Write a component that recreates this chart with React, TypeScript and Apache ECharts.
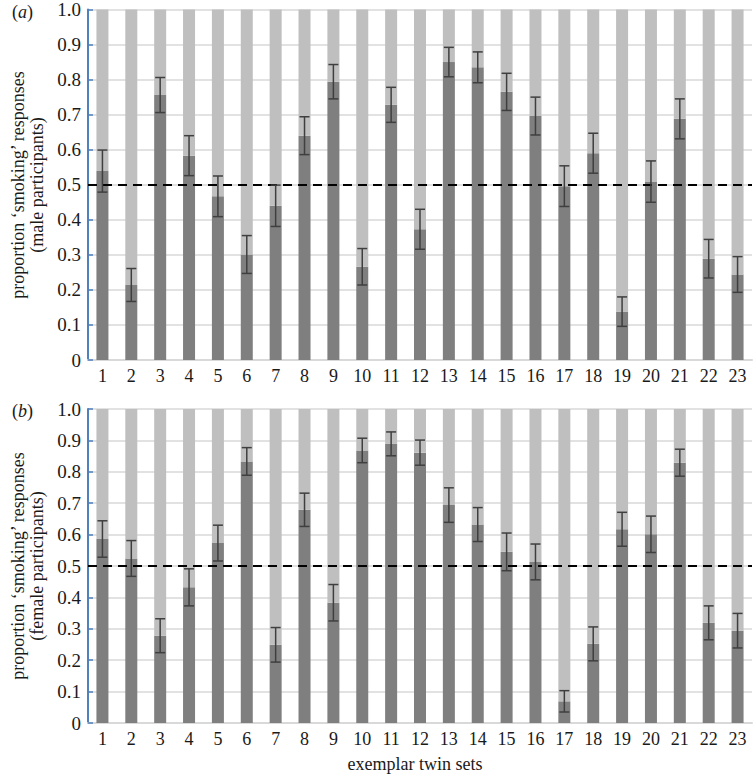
import React, { useEffect, useRef } from "react";
import * as echarts from "echarts";

const categories = ["1","2","3","4","5","6","7","8","9","10","11","12","13","14","15","16","17","18","19","20","21","22","23"];

const maleValues = [0.539,0.214,0.756,0.583,0.467,0.301,0.440,0.640,0.794,0.266,0.728,0.373,0.850,0.835,0.765,0.696,0.496,0.590,0.138,0.509,0.688,0.289,0.244];
const maleErr = [0.060,0.047,0.050,0.057,0.058,0.054,0.059,0.054,0.049,0.052,0.050,0.057,0.042,0.044,0.053,0.054,0.058,0.057,0.042,0.059,0.057,0.055,0.051];

const femaleValues = [0.586,0.524,0.278,0.432,0.573,0.833,0.249,0.679,0.383,0.868,0.889,0.861,0.694,0.632,0.545,0.513,0.069,0.252,0.617,0.601,0.829,0.319,0.294];
const femaleErr = [0.058,0.057,0.054,0.059,0.057,0.044,0.055,0.053,0.058,0.039,0.038,0.040,0.055,0.054,0.060,0.057,0.034,0.054,0.054,0.058,0.043,0.054,0.055];

const SERIF = "'Liberation Serif', 'Times New Roman', serif";
const DARK = "#7f7f7f";
const LIGHT = "#bfbfbf";
const ERR = "#3f3f3f";
const AXIS_BLUE = "#4f81bd";
const TEXT = "#1a1a1a";

function panelSeries(values: number[], errs: number[], gi: number) {
  const rest = values.map((v) => +(1 - v).toFixed(3));
  const errData = values.map((v, i) => [i, v - errs[i], v + errs[i]]);
  return [
    {
      type: "bar",
      xAxisIndex: gi,
      yAxisIndex: gi,
      stack: "s" + gi,
      data: values,
      barWidth: 12,
      itemStyle: { color: DARK },
      silent: true,
      markLine: {
        silent: true,
        symbol: "none",
        label: { show: false },
        lineStyle: { color: "#000", type: [9, 6], width: 2 },
        data: [{ yAxis: 0.5 }],
      },
    },
    {
      type: "bar",
      xAxisIndex: gi,
      yAxisIndex: gi,
      stack: "s" + gi,
      data: rest,
      barWidth: 12,
      itemStyle: { color: LIGHT },
      silent: true,
    },
    {
      type: "custom",
      xAxisIndex: gi,
      yAxisIndex: gi,
      data: errData,
      z: 10,
      silent: true,
      renderItem: (params: any, api: any) => {
        const x = api.value(0);
        const lo = api.coord([x, api.value(1)]);
        const hi = api.coord([x, api.value(2)]);
        const hw = 5;
        const style = { stroke: ERR, lineWidth: 1.5 };
        return {
          type: "group",
          children: [
            { type: "line", shape: { x1: lo[0], y1: lo[1], x2: hi[0], y2: hi[1] }, style },
            { type: "line", shape: { x1: lo[0] - hw, y1: lo[1], x2: lo[0] + hw, y2: lo[1] }, style },
            { type: "line", shape: { x1: hi[0] - hw, y1: hi[1], x2: hi[0] + hw, y2: hi[1] }, style },
          ],
        };
      },
    },
  ];
}

export default function App() {
  const ref = useRef<HTMLDivElement>(null);
  useEffect(() => {
    if (!ref.current) return;
    const chart = echarts.init(ref.current, null, { renderer: "svg" });
    const xAxisBase = (gi: number) => ({
      type: "category",
      gridIndex: gi,
      data: categories,
      axisLine: { show: true, lineStyle: { color: "#d9d9d9", width: 2 } },
      axisTick: { show: false },
      axisLabel: { color: TEXT, fontFamily: SERIF, fontSize: 18, margin: 7, interval: 0 },
      splitLine: { show: false },
    });
    const yAxisBase = (gi: number) => ({
      type: "value",
      gridIndex: gi,
      min: 0,
      max: 1,
      interval: 0.1,
      axisLine: { show: true, lineStyle: { color: AXIS_BLUE, width: 2 } },
      axisTick: { show: true, inside: true, length: 5, lineStyle: { color: AXIS_BLUE, width: 1.5 } },
      axisLabel: {
        color: TEXT,
        fontFamily: SERIF,
        fontSize: 19,
        margin: 7,
        formatter: (v: number) => {
          const r = Math.round(v * 10) / 10;
          return r === 0 ? "0" : r.toFixed(1);
        },
      },
      splitLine: { show: true, lineStyle: { color: "#d9d9d9", width: 1.5 } },
    });
    const label = (t: string, x: number, y: number, rot = 0) => ({
      type: "text",
      x,
      y,
      rotation: rot,
      style: { text: t, fontFamily: SERIF, fontSize: 18, fill: TEXT, align: "center", verticalAlign: "middle" },
    });
    const panelTag = (letter: string, top: number) => ({
      type: "text",
      left: 12,
      top,
      style: {
        text: "({i|" + letter + "})",
        fontFamily: SERIF,
        fontSize: 18,
        fill: TEXT,
        rich: { i: { fontStyle: "italic", fontFamily: SERIF, fontSize: 18, fill: TEXT } },
      },
    });
    const option: any = {
      animation: false,
      backgroundColor: "#fff",
      grid: [
        { left: 88, top: 9, width: 664, height: 351 },
        { left: 88, top: 409, width: 664, height: 314 },
      ],
      xAxis: [xAxisBase(0), xAxisBase(1)],
      yAxis: [yAxisBase(0), yAxisBase(1)],
      series: [...panelSeries(maleValues, maleErr, 0), ...panelSeries(femaleValues, femaleErr, 1)],
      graphic: [
        panelTag("a", 3),
        panelTag("b", 402),
        label("proportion ‘smoking’ responses", 18, 185, Math.PI / 2),
        label("(male participants)", 37, 185, Math.PI / 2),
        label("proportion ‘smoking’ responses", 18, 566, Math.PI / 2),
        label("(female participants)", 37, 566, Math.PI / 2),
        label("exemplar twin sets", 415, 764),
      ],
    };
    chart.setOption(option);
    return () => chart.dispose();
  }, []);
  return <div ref={ref} style={{ width: 753, height: 777, position: "absolute", left: 0, top: 0 }} />;
}
